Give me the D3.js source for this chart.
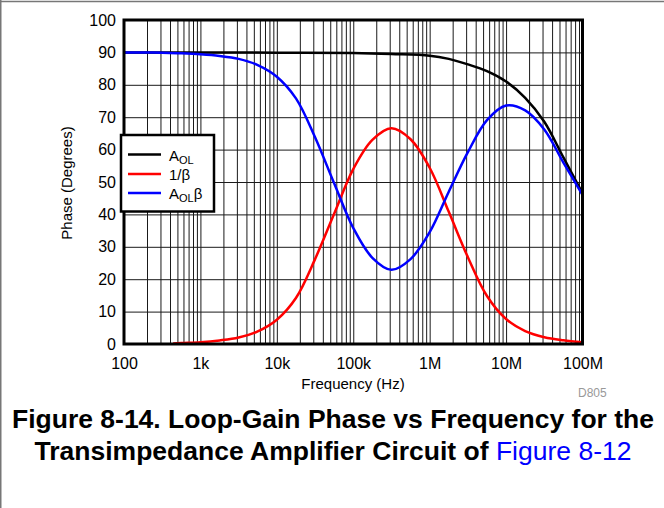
<!DOCTYPE html>
<html><head><meta charset="utf-8">
<script src="https://cdn.jsdelivr.net/npm/d3@7/dist/d3.min.js"></script>
<style>
body{margin:0;background:#fff;}
svg{display:block;font-family:"Liberation Sans",Arial,Helvetica,sans-serif;}
</style>
</head><body>
<svg id="chart" width="664" height="508"></svg>
<script>
// ---- data ----
const xTickValues = [1e2, 1e3, 1e4, 1e5, 1e6, 1e7, 1e8];
const xTickLabels = ["100", "1k", "10k", "100k", "1M", "10M", "100M"];
const yTickValues = [0, 10, 20, 30, 40, 50, 60, 70, 80, 90, 100];
const yTickLabels = ["0", "10", "20", "30", "40", "50", "60", "70", "80", "90", "100"];

const freqAOL  = [100, 1000, 1e4, 1e5, 316228, 1e6, 1778279, 3162278, 5623413, 1e7, 17782794, 31622777, 56234133, 1e8];
const phaseAOL = [90, 90, 89.9, 89.8, 89.5, 89.0, 88.0, 86.3, 84.2, 81.0, 76.0, 68.6, 57.6, 46.5];

const freqInvBeta  = [440, 562, 1000, 1778, 3162, 5623, 1e4, 17783, 31623, 56234, 1e5, 177828, 316228, 562341, 1e6, 1778279, 3162278, 5623413, 1e7, 17782794, 31622777, 56234133, 1e8];
const phaseInvBeta = [0.15, 0.3, 0.55, 1.1, 2.0, 3.9, 7.5, 14.2, 26.2, 40.2, 54.0, 63.0, 66.6, 63.2, 54.4, 40.8, 26.8, 14.8, 7.7, 4.0, 2.1, 1.15, 0.55];

const freqAOLB  = [100, 178, 316, 562, 1000, 1778, 3162, 5623, 1e4, 17783, 31623, 56234, 1e5, 177828, 316228, 562341, 1e6, 1778279, 3162278, 5623413, 1e7, 17782794, 31622777, 56234133, 1e8];
const phaseAOLB = [90, 90, 89.9, 89.7, 89.4, 88.9, 88.0, 86.1, 82.5, 75.8, 63.8, 49.6, 35.8, 26.6, 22.9, 26.2, 34.5, 47.0, 59.2, 69.1, 73.6, 72.1, 66.2, 56.0, 46.0];

const seriesNames  = ["AOL", "1/β", "AOLβ"];
const seriesColors = ["#000000", "#ff0000", "#0000ff"];

// ---- layout ----
const L = 124, R = 582.5, T = 20, B = 344;
const svg = d3.select("#chart");

// page border (top and left, like the cropped reference)
svg.append("line").attr("x1", 0).attr("x2", 664).attr("y1", 1.5).attr("y2", 1.5).attr("stroke", "#777").attr("stroke-width", 1.5);
svg.append("line").attr("x1", 0.75).attr("x2", 0.75).attr("y1", 0).attr("y2", 508).attr("stroke", "#777").attr("stroke-width", 1.5);

const x = d3.scaleLog().domain([1e2, 1e8]).range([L, R]);
const y = d3.scaleLinear().domain([0, 100]).range([B, T]);

// grid: all log minor/major positions
const gridX = [];
for (let d = 2; d < 8; d++) for (let m = 1; m <= 9; m++) gridX.push(m * Math.pow(10, d));
gridX.push(1e8);

const gx = svg.append("g").attr("transform", `translate(0,${B})`)
  .call(d3.axisBottom(x).tickValues(gridX).tickSize(-(B - T)).tickFormat(""));
gx.select(".domain").remove();
gx.selectAll("line").attr("stroke", "#1a1a1a").attr("stroke-width", 1);

const gy = svg.append("g").attr("transform", `translate(${L},0)`)
  .call(d3.axisLeft(y).tickValues(yTickValues).tickSize(-(R - L)).tickFormat(""));
gy.select(".domain").remove();
gy.selectAll("line").attr("stroke", "#1a1a1a").attr("stroke-width", 1);

// tick labels via axes
const ax = svg.append("g").attr("transform", `translate(0,${B})`)
  .call(d3.axisBottom(x).tickValues(xTickValues).tickSize(0).tickPadding(14)
        .tickFormat((d, i) => xTickLabels[i]));
ax.select(".domain").remove();
ax.selectAll("text").attr("font-size", 16).attr("fill", "#000")
  .attr("font-family", '"Liberation Sans",Arial,sans-serif');

const ay = svg.append("g").attr("transform", `translate(${L},0)`)
  .call(d3.axisLeft(y).tickValues(yTickValues).tickSize(0).tickPadding(8)
        .tickFormat((d, i) => yTickLabels[i]));
ay.select(".domain").remove();
ay.selectAll("text").attr("font-size", 16).attr("fill", "#000")
  .attr("font-family", '"Liberation Sans",Arial,sans-serif');

// curves
const line = d3.line().x(d => x(d[0])).y(d => y(d[1])).curve(d3.curveCatmullRom.alpha(0.5));
const series = [
  d3.zip(freqAOL, phaseAOL),
  d3.zip(freqInvBeta, phaseInvBeta),
  d3.zip(freqAOLB, phaseAOLB)
];
svg.append("clipPath").attr("id", "clip").append("rect")
  .attr("x", L).attr("y", T).attr("width", R - L).attr("height", B - T);
series.forEach((s, i) => {
  svg.append("path").attr("d", line(s)).attr("fill", "none")
    .attr("stroke", seriesColors[i]).attr("stroke-width", 2.5)
    .attr("clip-path", "url(#clip)");
});

// frame
svg.append("rect").attr("x", L).attr("y", T).attr("width", R - L).attr("height", B - T)
  .attr("fill", "none").attr("stroke", "#000").attr("stroke-width", 3);

// legend
const lg = svg.append("g");
lg.append("rect").attr("x", 121).attr("y", 135).attr("width", 93).attr("height", 76.5)
  .attr("fill", "#fff").attr("stroke", "#000").attr("stroke-width", 2.5);
const legY = [154.5, 174, 193];
seriesNames.forEach((n, i) => {
  lg.append("line").attr("x1", 128).attr("x2", 161).attr("y1", legY[i]).attr("y2", legY[i])
    .attr("stroke", seriesColors[i]).attr("stroke-width", 2.5);
  const t = lg.append("text").attr("x", 169).attr("y", legY[i] + 6).attr("font-size", 15).attr("fill", "#000");
  if (n.startsWith("AOL")) {
    t.append("tspan").text("A");
    t.append("tspan").attr("font-size", 11).attr("dy", 3).text("OL");
    if (n.length > 3) t.append("tspan").attr("dy", -3).text(n.slice(3));
  } else {
    t.text(n);
  }
});

// axis titles
svg.append("text").attr("x", 353).attr("y", 389).attr("text-anchor", "middle")
  .attr("font-size", 15).text("Frequency (Hz)");
svg.append("text").attr("transform", "translate(72,183) rotate(-90)").attr("text-anchor", "middle")
  .attr("font-size", 15).text("Phase (Degrees)");

svg.append("text").attr("x", 578).attr("y", 397).attr("font-size", 12).attr("fill", "#999").text("D805");

// caption
svg.append("text").attr("x", 333).attr("y", 428).attr("text-anchor", "middle")
  .attr("font-size", 26.5).attr("font-weight", "bold").attr("fill", "#000")
  .text("Figure 8-14. Loop-Gain Phase vs Frequency for the");
const cap2 = svg.append("text").attr("x", 333).attr("y", 460).attr("text-anchor", "middle")
  .attr("font-size", 26.5).attr("fill", "#000");
cap2.append("tspan").attr("font-weight", "bold").text("Transimpedance Amplifier Circuit of ");
cap2.append("tspan").attr("fill", "#0000ff").text("Figure 8-12");
</script>
</body></html>
